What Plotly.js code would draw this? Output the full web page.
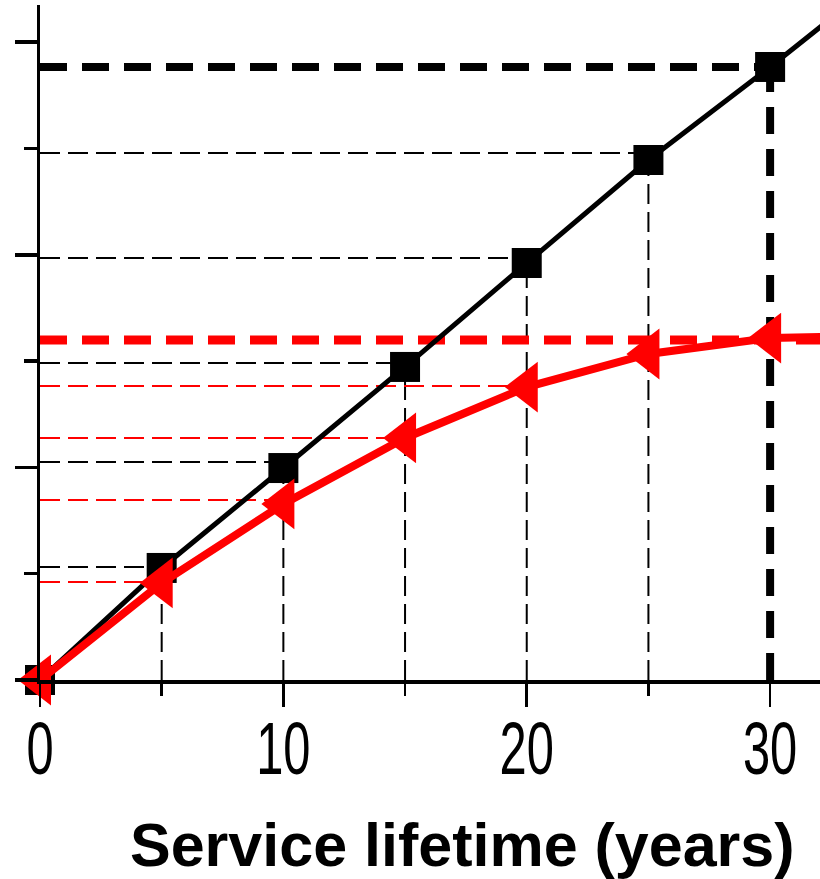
<!DOCTYPE html>
<html>
<head>
<meta charset="utf-8">
<script src="https://cdn.plot.ly/plotly-3.0.1.min.js"></script>
<style>html,body{margin:0;padding:0;background:#fff;}#chart{width:820px;height:879px;}</style>
</head>
<body>
<div id="chart"></div>
<script>
// Service lifetime (years); last point lies beyond the visible right edge
const years = [0, 5, 10, 15, 20, 25, 30, 35];
// Black series (squares)
const blackValues = [0, 1.054, 1.994, 2.945, 3.923, 4.892, 5.767, 6.68];
// Red series (left triangles)
const redValues = [0, 0.913, 1.656, 2.277, 2.756, 3.067, 3.217, 3.24];
// Guide (reference) levels
const guideYears = [5, 10, 15, 20, 25];
const blackGuideLevels = [1.063, 2.051, 2.982, 3.970, 4.958];
const redGuideYears = [5, 10, 15, 20];
const redGuideLevels = [0.922, 1.693, 2.277, 2.766];
const endYear = 30;
const blackEndLevel = 5.767;
const redEndLevel = 3.199;
const xTickVals = [0, 10, 20, 30];
const xTickText = ['0', '10', '20', '30'];
const xTitle = 'Service lifetime (years)';

function segs(pairs) {
  const x = [], y = [];
  pairs.forEach(p => { x.push(p[0], p[2], null); y.push(p[1], p[3], null); });
  return {x, y};
}

const bh = segs(guideYears.map((yr, i) => [0, blackGuideLevels[i], yr, blackGuideLevels[i]]));
const bv = segs(guideYears.map(yr => { const i = years.indexOf(yr); return [yr, 0, yr, blackValues[i]]; }));
const rh = segs(redGuideYears.map((yr, i) => [0, redGuideLevels[i], yr, redGuideLevels[i]]));

const thin = {width: 2, dash: '20px,8px'};
const traces = [
  {x: bh.x, y: bh.y, mode: 'lines', line: Object.assign({color: '#000'}, thin), hoverinfo: 'skip'},
  {x: bv.x, y: bv.y, mode: 'lines', line: Object.assign({color: '#000'}, thin), hoverinfo: 'skip'},
  {x: rh.x, y: rh.y, mode: 'lines', line: Object.assign({color: '#ff0000'}, thin), hoverinfo: 'skip'},
  {x: [0, endYear, null, endYear, endYear], y: [blackEndLevel, blackEndLevel, null, 0, blackEndLevel],
   mode: 'lines', line: {color: '#000', width: 8, dash: '27px,15px'}, hoverinfo: 'skip'},
  {x: [0, years[years.length - 1]], y: [redEndLevel, redEndLevel],
   mode: 'lines', line: {color: '#ff0000', width: 9, dash: '27px,15px'}, hoverinfo: 'skip'},
  {x: years, y: blackValues, mode: 'lines+markers', cliponaxis: false,
   line: {color: '#000', width: 5},
   marker: {symbol: 'square', size: 30, color: '#000', line: {width: 0}}},
  {x: years, y: redValues, mode: 'lines+markers', cliponaxis: false,
   line: {color: '#ff0000', width: 8},
   marker: {symbol: 'triangle-left', size: 44, color: '#ff0000', line: {width: 0}}}
];

const layout = {
  width: 820, height: 879,
  margin: {l: 40, r: 0, t: 5, b: 199},
  paper_bgcolor: '#fff', plot_bgcolor: '#fff',
  showlegend: false,
  xaxis: {
    range: [0, 32.05], showgrid: false, zeroline: false,
    showline: true, linecolor: '#000', linewidth: 3.5,
    tickvals: xTickVals, ticktext: xTickText,
    ticks: 'outside', ticklen: 23, tickwidth: 2.5, tickcolor: '#000',
    minor: {dtick: 5, tick0: 0, ticks: 'outside', ticklen: 12, tickwidth: 2.5, tickcolor: '#000', showgrid: false},
    tickfont: {family: '"Liberation Sans", Arial, sans-serif', size: 74, color: '#000'}
  },
  yaxis: {
    range: [0, 6.35], showgrid: false, zeroline: false,
    showline: true, linecolor: '#000', linewidth: 3.5,
    dtick: 2, tick0: 0, showticklabels: false,
    ticks: 'outside', ticklen: 22, tickwidth: 3.5, tickcolor: '#000',
    minor: {dtick: 1, tick0: 0, ticks: 'outside', ticklen: 13, tickwidth: 3.5, tickcolor: '#000', showgrid: false}
  },
  annotations: [{
    text: '<b>' + xTitle + '</b>', xref: 'paper', yref: 'paper',
    x: 0.542, y: (680 - 845) / 675, xanchor: 'center', yanchor: 'middle',
    showarrow: false,
    font: {family: '"Liberation Sans", Arial, sans-serif', size: 61, color: '#000'}
  }]
};

Plotly.newPlot('chart', traces, layout, {staticPlot: true}).then(() => {
  // narrow (condensed) look of the tick label digits, placed closer to the axis
  document.querySelectorAll('#chart .xtick text').forEach(t => {
    const x = +t.getAttribute('x') || 0, y = +t.getAttribute('y') || 0;
    const tr = t.getAttribute('transform') || '';
    t.setAttribute('transform', tr + ' translate(0,-21) translate(' + x + ',' + y + ') scale(0.66,1) translate(' + (-x) + ',' + (-y) + ')');
  });
});
</script>
</body>
</html>
